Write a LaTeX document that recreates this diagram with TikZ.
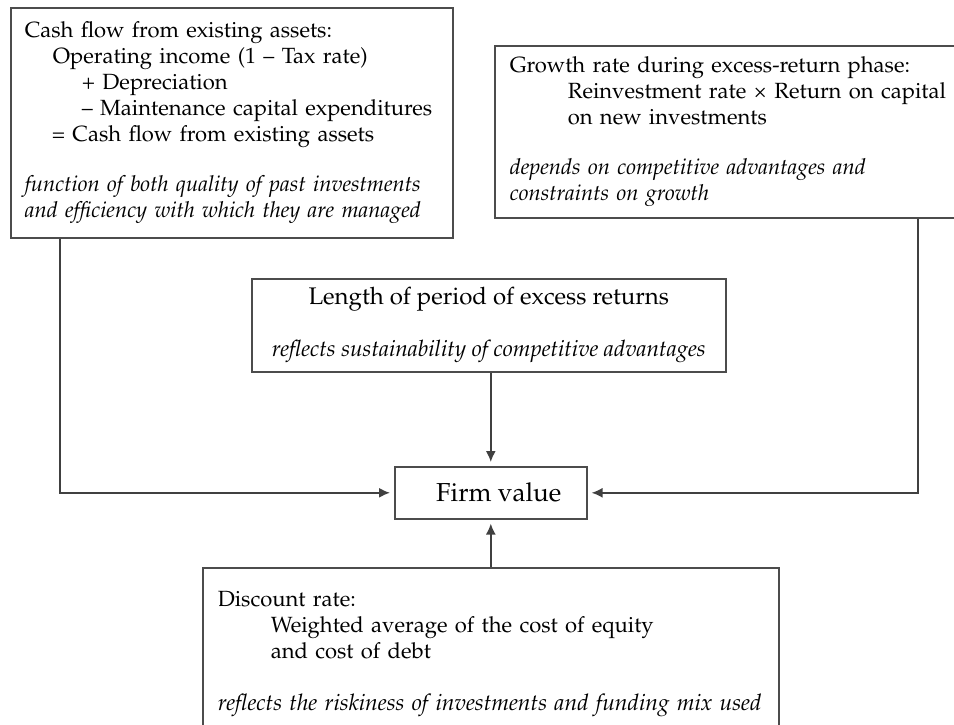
\documentclass[tikz,border=0pt]{standalone}
\usepackage[T1]{fontenc}
\usepackage{mathpazo}
\usetikzlibrary{arrows.meta,positioning}
\tikzset{
	box/.style={draw=black!70, line width=0.8pt, inner xsep=7pt, inner ysep=0pt, font=\fontsize{11}{13}\selectfont},
	arr/.style={draw=black!75, line width=0.8pt, shorten >=2pt, -{Latex[length=5.5pt,width=5pt]}}
}
\newcommand{\ind}[1]{\hspace*{#1pt}}
\begin{document}
\begin{tikzpicture}[x=0.5pt,y=-0.5pt]
			\useasboundingbox (0,0) rectangle (954,724);
			
			\node[box,anchor=north west,text width=207pt,minimum height=115pt,align=left] (assets) at (10,7) {Cash flow from existing assets:\\ \ind{14}Operating income (1 -- Tax rate)\\ \ind{28.5}+ Depreciation\\ \ind{28.5}\mbox{-- Maintenance capital expenditures}\\ \ind{13.5}= Cash flow from existing assets\\[12pt] \textit{function of both quality of past investments}\\ \textit{and efficiency with which they are managed}};
			\node[box,anchor=north west,inner xsep=7.5pt,text width=240pt,minimum height=86pt,align=left] (growth) at (494,45) {Growth rate during excess-return phase:\\ \ind{29}Reinvestment rate \texttimes{} Return on capital\\ \ind{29}on new investments\\[12pt] \textit{depends on competitive advantages and}\\ \textit{constraints on growth}};
			\node[box,anchor=north west,minimum width=237pt,minimum height=46.5pt,align=center] (length) at (251,278) {\fontsize{12}{13}\selectfont Length of period of excess returns\\[13pt] \fontsize{11.3}{13}\selectfont\textit{reflects sustainability of competitive advantages}};
			\node[box,anchor=north west,minimum width=96pt,minimum height=26pt,font=\fontsize{13}{15}\selectfont] (firm) at (394,466) {\hspace*{8pt}Firm value};
			\node[box,anchor=north west,inner xsep=7.5pt,text width=273pt,minimum height=86pt,align=left] (discount) at (202,567) {Discount rate:\\ \ind{26.5}Weighted average of the cost of equity\\ \ind{26.5}and cost of debt\\[13pt] \fontsize{11.4}{13}\selectfont\mbox{\textit{reflects the riskiness of investments and funding mix used}}};
			
			% fleches vers la valeur
			\draw[arr] ([xshift=25pt]assets.south west) |- (firm.west);
			\draw[arr] ([xshift=212pt]growth.south west) |- (firm.east);
			\draw[arr] (length.south -| firm.north) -- (firm.north);
			\draw[arr] (discount.north -| firm.south) -- (firm.south);
			
		\end{tikzpicture}
\end{document}
